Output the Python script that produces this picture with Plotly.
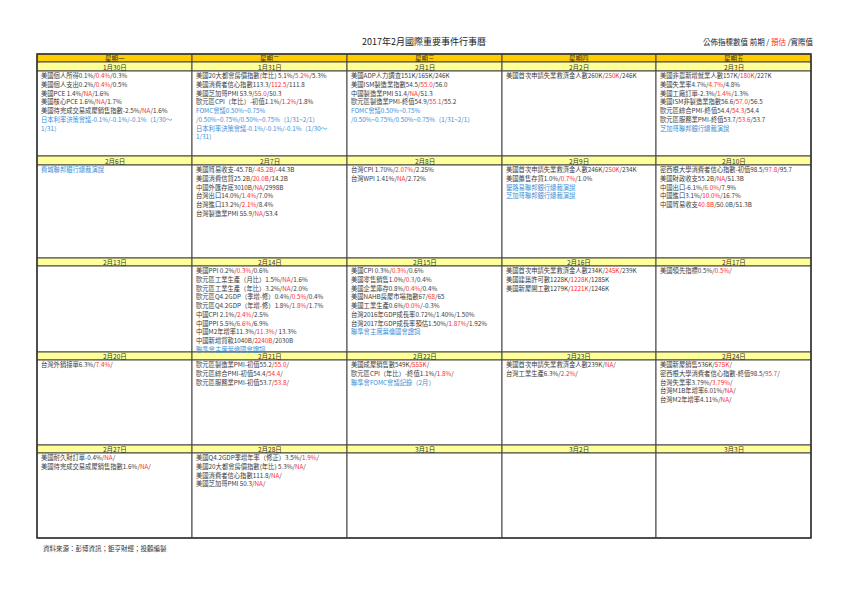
import plotly.graph_objects as go

title = "2017年2月國際重要事件行事曆"
weekdays = ["星期一", "星期二", "星期三", "星期四", "星期五"]
dates = [
    ["1月30日", "1月31日", "2月1日", "2月2日", "2月3日"],
    ["2月6日", "2月7日", "2月8日", "2月9日", "2月10日"],
    ["2月13日", "2月14日", "2月15日", "2月16日", "2月17日"],
    ["2月20日", "2月21日", "2月22日", "2月23日", "2月24日"],
    ["2月27日", "2月28日", "3月1日", "3月2日", "3月3日"],
]
# "|" surrounds the forecast (red); lines starting with "B:" are blue
events = [
    [
        ["美國個人所得0.1%/|0.4%|/0.3%", "美國個人支出0.2%/|0.4%|/0.5%", "美國PCE 1.4%/|NA|/1.6%",
         "美國核心PCE 1.6%/|NA|/1.7%", "美國待完成交易成屋銷售指數-2.5%/|NA|/1.6%",
         "B:日本利率決策會議-0.1%/-0.1%/-0.1%（1/30～", "B:1/31）"],
        ["美國20大都會房價指數(年比) 5.1%/|5.2%|/5.3%", "美國消費者信心指數113.3/|112.5|/111.8",
         "美國芝加哥PMI 53.9/|55.0|/50.3", "歐元區CPI（年比）-初值1.1%/|1.2%|/1.8%",
         "B:FOMC會議0.50%~0.75%", "B:/0.50%~0.75%/0.50%~0.75%（1/31~2/1）",
         "B:日本利率決策會議-0.1%/-0.1%/-0.1%（1/30～", "B:1/31）"],
        ["美國ADP人力調查151K/165K/246K", "美國ISM製造業指數54.5/|55.0|/56.0",
         "中國製造業PMI 51.4/|NA|/51.3", "歐元區製造業PMI-終值54.9/|55.1|/55.2",
         "B:FOMC會議0.50%~0.75%", "B:/0.50%~0.75%/0.50%~0.75%（1/31~2/1）"],
        ["美國首次申請失業救濟金人數260K/|250K|/246K"],
        ["美國非農新增就業人數157K/|180K|/227K", "美國失業率4.7%/|4.7%|/4.8%",
         "美國工廠訂單-2.3%/|1.4%|/1.3%", "美國ISM非製造業指數56.6/|57.0|/56.5",
         "歐元區綜合PMI-終值54.4/|54.3|/54.4", "歐元區服務業PMI-終值53.7/|53.6|/53.7",
         "B:芝加哥聯邦銀行總裁演說"],
    ],
    [
        ["B:費城聯邦銀行總裁演說"],
        ["美國貿易收支-45.7B/|-45.2B|/-44.3B", "美國消費信貸25.2B/|20.0B|/14.2B",
         "中國外匯存底3010B/|NA|/2998B", "台灣出口14.0%/|1.4%|/7.0%",
         "台灣進口13.2%/|2.1%|/8.4%", "台灣製造業PMI 55.9/|NA|/53.4"],
        ["台灣CPI 1.70%/|2.07%|/2.25%", "台灣WPI 1.41%/|NA|/2.72%"],
        ["美國首次申請失業救濟金人數246K/|250K|/234K", "美國躉售存貨1.0%/|0.7%|/1.0%",
         "B:聖路易聯邦銀行總裁演說", "B:芝加哥聯邦銀行總裁演說"],
        ["密西根大學消費者信心指數-初值98.5/|97.8|/95.7", "美國財政收支55.2B/|NA|/51.3B",
         "中國出口-6.1%/|6.0%|/7.9%", "中國進口3.1%/|10.0%|/16.7%",
         "中國貿易收支|40.8B|/50.0B/51.3B"],
    ],
    [
        [],
        ["美國PPI 0.2%/|0.3%|/0.6%", "歐元區工業生產（月比）1.5%/|NA|/1.6%",
         "歐元區工業生產（年比）3.2%/|NA|/2.0%", "歐元區Q4.2GDP（季增-修）0.4%/|0.5%|/0.4%",
         "歐元區Q4.2GDP（年增-修）1.8%/|1.8%|/1.7%", "中國CPI 2.1%/|2.4%|/2.5%",
         "中國PPI 5.5%/|6.6%|/6.9%", "中國M2年增率11.3%/|11.3%|/ 13.3%",
         "中國新增貸款1040B/|2240B|/2030B", "B:聯準會主席葉倫國會證詞"],
        ["美國CPI 0.3%/|0.3%|/0.6%", "美國零售銷售1.0%/|0.3|/0.4%", "美國企業庫存0.8%/|0.4%|/0.4%",
         "美國NAHB房屋市場指數67/|68|/65", "美國工業生產0.6%/|0.0%|/-0.3%",
         "台灣2016年GDP成長率0.72%/1.40%/1.50%", "台灣2017年GDP成長率預估1.50%/|1.87%|/1.92%",
         "B:聯準會主席葉倫國會證詞"],
        ["美國首次申請失業救濟金人數234K/|245K|/239K", "美國建築許可數1228K/|1228K|/1285K",
         "美國新屋開工數1279K/|1221K|/1246K"],
        ["美國領先指標0.5%/|0.5%|/"],
    ],
    [
        ["台灣外銷接單6.3%/|7.4%|/"],
        ["歐元區製造業PMI-初值55.2/|55.0|/", "歐元區綜合PMI-初值54.4/|54.4|/",
         "歐元區服務業PMI-初值53.7/|53.8|/"],
        ["美國成屋銷售數549K/|555K|/", "歐元區CPI（年比）-終值1.1%/|1.8%|/",
         "B:聯準會FOMC會議記錄（2月）"],
        ["美國首次申請失業救濟金人數239K/|NA|/", "台灣工業生產6.3%/|2.2%|/"],
        ["美國新屋銷售536K/|575K|/", "密西根大學消費者信心指數-終值98.5/|95.7|/",
         "台灣失業率3.79%/|3.79%|/", "台灣M1B年增率6.01%/|NA|/", "台灣M2年增率4.11%/|NA|/"],
    ],
    [
        ["美國耐久財訂單-0.4%/|NA|/", "美國待完成交易成屋銷售指數1.6%/|NA|/"],
        ["美國Q4.2GDP季增年率（修正）3.5%/|1.9%|/", "美國20大都會房價指數(年比) 5.3%/|NA|/",
         "美國消費者信心指數111.8/|NA|/", "美國芝加哥PMI 50.3/|NA|/"],
        [], [], [],
    ],
]
legend_parts = ["公佈指標數值 前期 / ", "預估", " /實際值"]
source = "資料來源：彭博資訊；鉅亨財經；投顧編製"

# layout geometry (pixels)
col_x = [29, 184, 339, 494, 648, 803]
header_y = (46, 54)
weeks_y = [(54, 63, 148), (148, 157, 250), (250, 258, 344), (344, 352, 437), (437, 445, 530)]
FONT = "Noto Sans CJK TC, Noto Sans CJK SC, sans-serif"
GRAY, RED, BLUE = "#3a3a3a", "#ff2a2a", "#3b8ed6"
LINE_H = 8.7

shapes, annos = [], []

def rect(x0, y0, x1, y1, fill, w=1, col="#444"):
    shapes.append(dict(type="rect", xref="x", yref="y", x0=x0, x1=x1, y0=y0, y1=y1,
                       fillcolor=fill, line=dict(color=col, width=w), layer="below"))

def fmt(s):
    if s.startswith("B:"):
        return f"<span style='color:{BLUE}'>{s[2:]}</span>"
    parts = s.split("|")
    out = ""
    for i, p in enumerate(parts):
        out += f"<span style='color:{RED}'>{p}</span>" if i % 2 else p
    return out

for c in range(5):
    x0, x1 = col_x[c], col_x[c + 1]
    rect(x0, header_y[0], x1, header_y[1], "#FFCC00")
    annos.append(dict(x=(x0 + x1) / 2, y=(header_y[0] + header_y[1]) / 2, text=weekdays[c],
                      font=dict(size=6.5, color="#333", family=FONT)))
    for w, (ya, yb, yc) in enumerate(weeks_y):
        rect(x0, ya, x1, yb, "#FFFF99")
        rect(x0, yb, x1, yc, "white")
        annos.append(dict(x=(x0 + x1) / 2, y=(ya + yb) / 2, text=dates[w][c],
                          font=dict(size=6.5, color="#333", family=FONT)))
        for i, line in enumerate(events[w][c]):
            annos.append(dict(x=x0 + 2, y=yb + 4.8 + i * LINE_H, text=fmt(line), xanchor="left",
                              font=dict(size=6.3, color=GRAY, family=FONT)))
rect(col_x[0], header_y[0], col_x[-1], weeks_y[-1][2], "rgba(0,0,0,0)", 1.5, "#333")

annos.append(dict(x=416, y=33, text=title, font=dict(size=9, color="#222", family=FONT)))
annos.append(dict(x=808, y=33, xanchor="right",
                  text=legend_parts[0] + f"<span style='color:{RED}'>{legend_parts[1]}</span>" + legend_parts[2],
                  font=dict(size=7.5, color="#222", family=FONT)))
annos.append(dict(x=33, y=540, xanchor="left", text=source, font=dict(size=6.5, color="#333", family=FONT)))
for a in annos:
    a.update(xref="x", yref="y", showarrow=False)

fig = go.Figure()
fig.add_trace(go.Scatter(x=[0, 842], y=[0, 595], mode="markers", marker=dict(opacity=0), hoverinfo="skip"))
fig.update_layout(width=842, height=595, margin=dict(l=0, r=0, t=0, b=0),
                  paper_bgcolor="white", plot_bgcolor="white", showlegend=False,
                  shapes=shapes, annotations=annos,
                  xaxis=dict(range=[0, 842], visible=False, fixedrange=True),
                  yaxis=dict(range=[595, 0], visible=False, fixedrange=True))
fig.write_html("out.html", config={"displayModeBar": False})
